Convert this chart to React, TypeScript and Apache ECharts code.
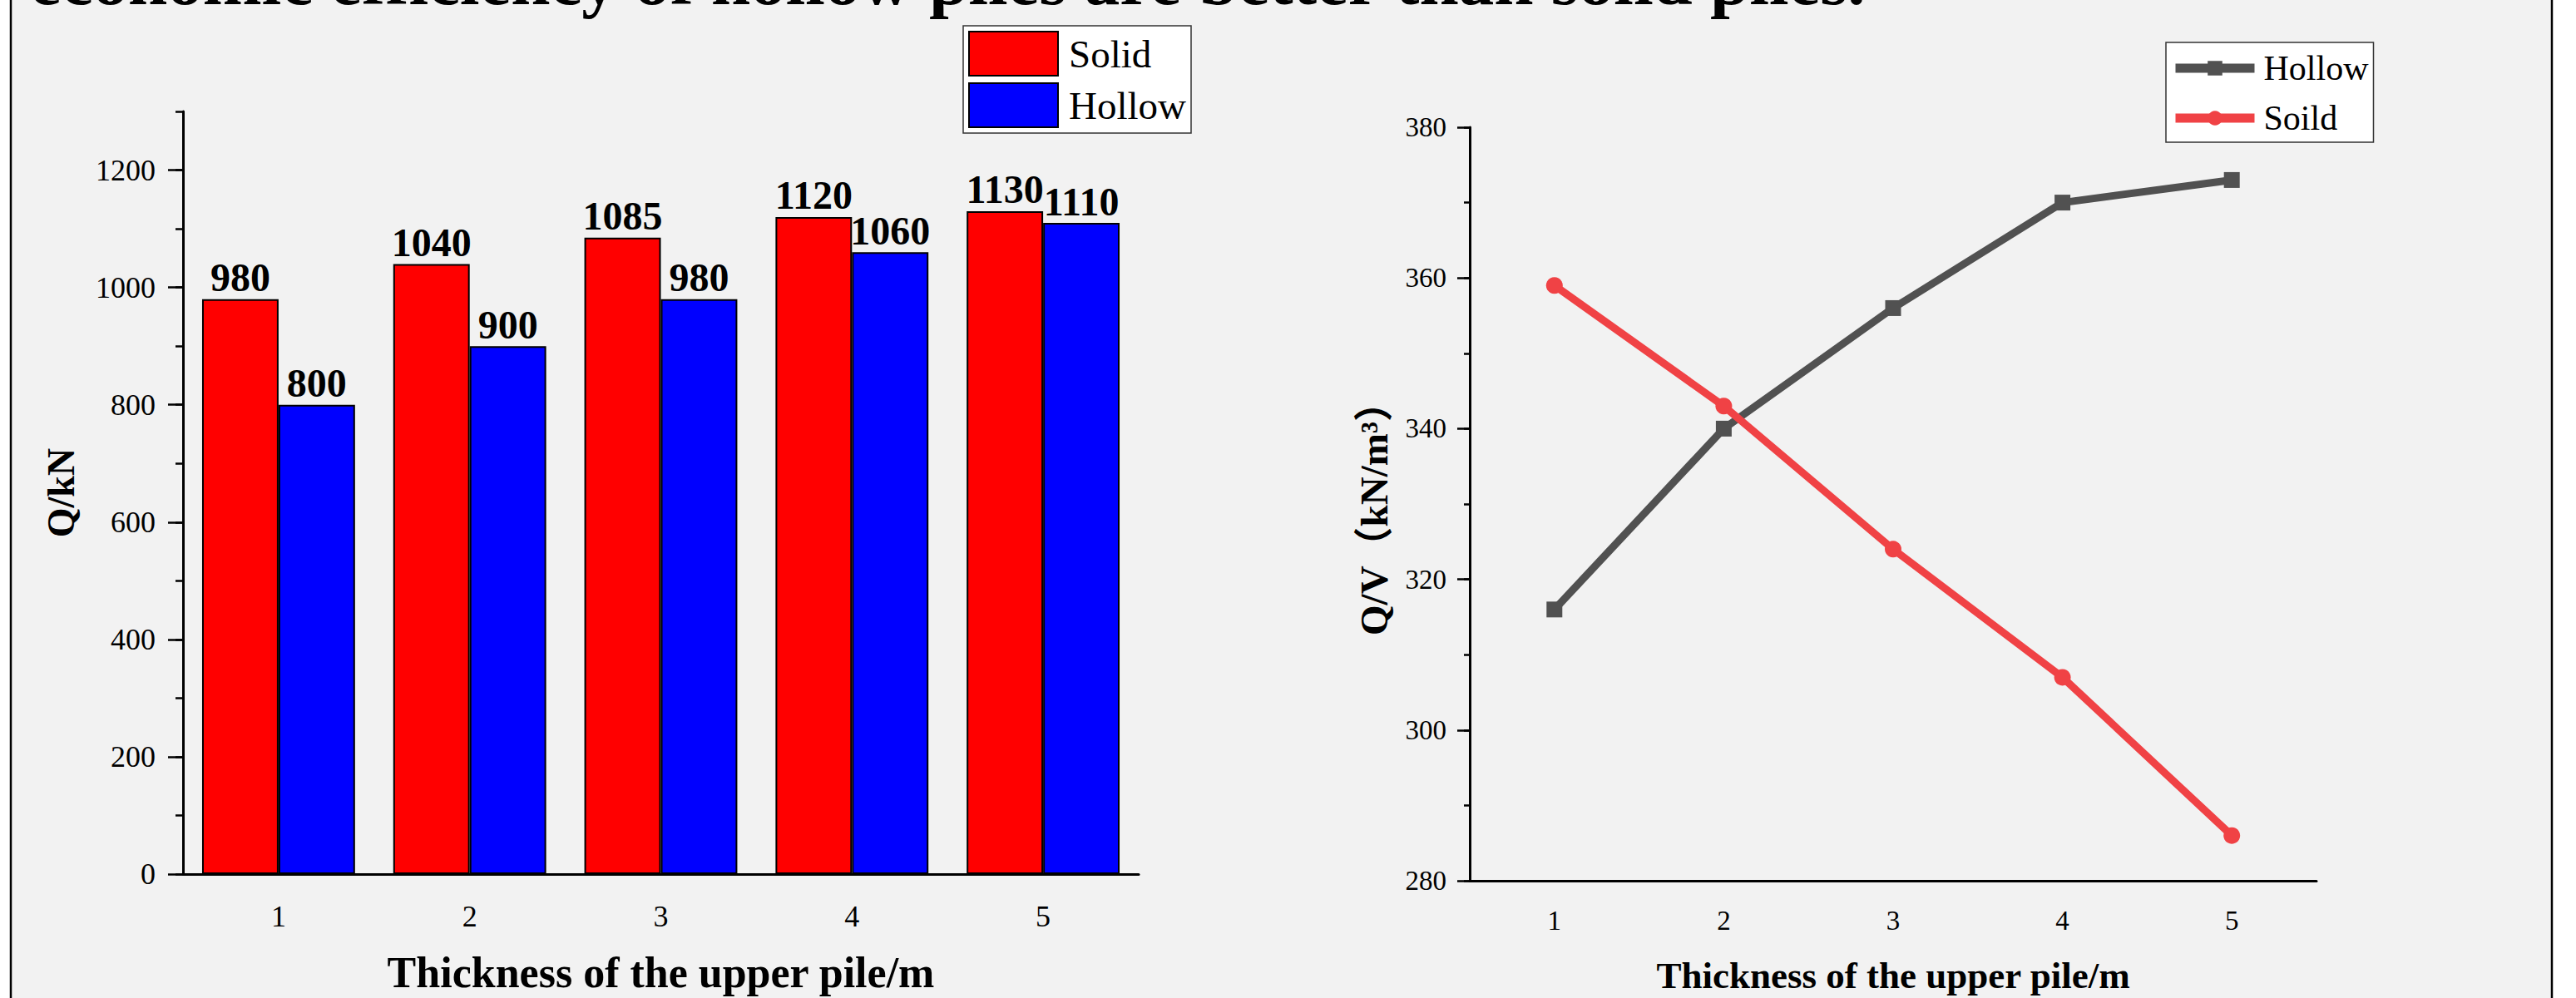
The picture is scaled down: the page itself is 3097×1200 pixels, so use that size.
import { useEffect, useRef } from 'react';
import * as echarts from 'echarts';

const categories = ['1', '2', '3', '4', '5'];
const solidCapacity = [980, 1040, 1085, 1120, 1130];
const hollowCapacity = [800, 900, 980, 1060, 1110];
const hollowRatio = [316, 340, 356, 370, 373];
const solidRatio = [359, 343, 324, 307, 286];
const leftYTicks = [0, 200, 400, 600, 800, 1000, 1200];
const rightYTicks = [280, 300, 320, 340, 360, 380];
const titleText = 'economic efficiency of hollow piles are better than solid piles.';
const xName = 'Thickness of the upper pile/m';
const leftYName = 'Q/kN';
const rightYName = 'Q/V（kN/m³）';

const SERIF = '"Liberation Serif", "Times New Roman", serif';
const SERIF_CJK = '"Liberation Serif", "Noto Sans CJK SC", serif';

export default function App() {
  const ref = useRef<HTMLDivElement>(null);
  useEffect(() => {
    if (!ref.current) return;
    const chart = echarts.init(ref.current, null, { renderer: 'svg' });
    const tickStyle = { color: '#000', width: 2.5 };
    const axisLineStyle = { color: '#000', width: 3 };
    const plain = (v: number) => String(v);
    const option: any = {
      animation: false,
      backgroundColor: '#ffffff',
      graphic: [
        {
          type: 'rect',
          z: -10,
          silent: true,
          shape: { x: 13, y: -10, width: 3055, height: 1230 },
          style: { fill: '#f2f2f2', stroke: '#000', lineWidth: 2.5 },
        },
        {
          type: 'text',
          z: 10,
          x: 36,
          y: -24,
          style: {
            text: titleText,
            fontSize: 85,
            fontWeight: 'bold',
            fontFamily: SERIF,
            fill: '#000',
            verticalAlign: 'middle',
            align: 'left',
          },
        },
      ],
      grid: [
        { left: 220, top: 134, width: 1149, height: 924.5 },
        { left: 1767, top: 153, width: 1018, height: 909 },
      ],
      legend: [
        {
          data: ['Solid', 'Hollow'],
          orient: 'vertical',
          left: 1158,
          top: 31,
          itemWidth: 107,
          itemHeight: 53,
          itemGap: 7,
          padding: [6, 6, 6, 6],
          backgroundColor: '#ffffff',
          borderColor: '#333',
          borderWidth: 1.5,
          borderRadius: 0,
          icon: 'rect',
          textStyle: { fontSize: 47, fontFamily: SERIF, color: '#000', padding: [0, 0, 0, 8] },
        },
        {
          data: ['HollowQV', 'SoildQV'],
          formatter: (name: string) => name.replace('QV', ''),
          orient: 'vertical',
          left: 2604,
          top: 51,
          itemWidth: 95,
          itemHeight: 22,
          itemGap: 18,
          padding: [10, 6, 8, 6],
          backgroundColor: '#ffffff',
          borderColor: '#333',
          borderWidth: 1.5,
          borderRadius: 0,
          lineStyle: { width: 11 },
          textStyle: { fontSize: 42, fontFamily: SERIF, color: '#000', padding: [0, 0, 0, 6] },
        },
      ],
      xAxis: [
        {
          gridIndex: 0,
          type: 'category',
          data: categories,
          position: 'bottom',
          boundaryGap: true,
          axisLine: { onZero: false, lineStyle: axisLineStyle },
          axisTick: { length: 9, lineStyle: tickStyle },
          axisLabel: { show: false },
          splitLine: { show: false },
        },
        {
          gridIndex: 0,
          type: 'category',
          data: categories,
          position: 'bottom',
          boundaryGap: true,
          axisLine: { show: false, onZero: false },
          axisTick: { alignWithLabel: true, length: 18, lineStyle: tickStyle },
          axisLabel: { fontSize: 36, fontFamily: SERIF, color: '#000', margin: 33 },
          splitLine: { show: false },
          name: xName,
          nameLocation: 'middle',
          nameGap: 92,
          nameTextStyle: { fontSize: 52, fontWeight: 'bold', fontFamily: SERIF, color: '#000' },
        },
        {
          gridIndex: 1,
          type: 'category',
          data: categories,
          position: 'bottom',
          boundaryGap: true,
          axisLine: { onZero: false, lineStyle: axisLineStyle },
          axisTick: { length: 10, lineStyle: tickStyle },
          axisLabel: { show: false },
          splitLine: { show: false },
        },
        {
          gridIndex: 1,
          type: 'category',
          data: categories,
          position: 'bottom',
          boundaryGap: true,
          axisLine: { show: false, onZero: false },
          axisTick: { alignWithLabel: true, length: 18, lineStyle: tickStyle },
          axisLabel: { fontSize: 33, fontFamily: SERIF, color: '#000', margin: 31 },
          splitLine: { show: false },
          name: xName,
          nameLocation: 'middle',
          nameGap: 91,
          nameTextStyle: { fontSize: 45, fontWeight: 'bold', fontFamily: SERIF, color: '#000' },
        },
      ],
      yAxis: [
        {
          gridIndex: 0,
          type: 'value',
          position: 'left',
          min: 0,
          max: 1300,
          interval: 100,
          axisLine: { show: true, lineStyle: axisLineStyle },
          axisTick: { show: true, length: 9, lineStyle: tickStyle },
          axisLabel: { show: false },
          splitLine: { show: false },
        },
        {
          gridIndex: 0,
          type: 'value',
          position: 'left',
          min: 0,
          max: 1300,
          interval: 100,
          axisLine: { show: false },
          axisTick: { show: true, length: 18, lineStyle: tickStyle, customValues: leftYTicks },
          axisLabel: { customValues: leftYTicks, formatter: plain, fontSize: 36, fontFamily: SERIF, color: '#000', margin: 33 },
          splitLine: { show: false },
          name: leftYName,
          nameLocation: 'middle',
          nameRotate: 90,
          nameGap: 124,
          nameTextStyle: { fontSize: 46, fontWeight: 'bold', fontFamily: SERIF, color: '#000' },
        },
        {
          gridIndex: 1,
          type: 'value',
          position: 'left',
          min: 280,
          max: 380,
          interval: 10,
          axisLine: { show: true, lineStyle: axisLineStyle },
          axisTick: { show: true, length: 7, lineStyle: tickStyle },
          axisLabel: { show: false },
          splitLine: { show: false },
        },
        {
          gridIndex: 1,
          type: 'value',
          position: 'left',
          min: 280,
          max: 380,
          interval: 10,
          axisLine: { show: false },
          axisTick: { show: true, length: 15, lineStyle: tickStyle, customValues: rightYTicks },
          axisLabel: { customValues: rightYTicks, formatter: plain, fontSize: 33, fontFamily: SERIF, color: '#000', margin: 28 },
          splitLine: { show: false },
          name: rightYName,
          nameLocation: 'middle',
          nameRotate: 90,
          nameGap: 92,
          nameTextStyle: { fontSize: 47, fontWeight: 'bold', fontFamily: SERIF_CJK, color: '#000', padding: [0, 12, 0, 0] },
        },
      ],
      series: [
        {
          name: 'Solid',
          type: 'bar',
          xAxisIndex: 0,
          yAxisIndex: 0,
          data: solidCapacity,
          barGap: '0%',
          barCategoryGap: '20%',
          itemStyle: { color: '#ff0000', borderColor: '#000', borderWidth: 2 },
          label: { show: true, position: 'top', distance: 2, fontSize: 48, fontWeight: 'bold', fontFamily: SERIF, color: '#000' },
        },
        {
          name: 'Hollow',
          type: 'bar',
          xAxisIndex: 0,
          yAxisIndex: 0,
          data: hollowCapacity,
          barGap: '0%',
          barCategoryGap: '20%',
          itemStyle: { color: '#0000ff', borderColor: '#000', borderWidth: 2 },
          label: { show: true, position: 'top', distance: 2, fontSize: 48, fontWeight: 'bold', fontFamily: SERIF, color: '#000' },
        },
        {
          name: 'HollowQV',
          type: 'line',
          xAxisIndex: 2,
          yAxisIndex: 2,
          data: hollowRatio,
          symbol: 'rect',
          symbolSize: 19,
          lineStyle: { color: '#515151', width: 9 },
          itemStyle: { color: '#515151' },
          z: 3,
        },
        {
          name: 'SoildQV',
          type: 'line',
          xAxisIndex: 2,
          yAxisIndex: 2,
          data: solidRatio,
          symbol: 'circle',
          symbolSize: 20,
          lineStyle: { color: '#f04245', width: 9 },
          itemStyle: { color: '#f04245' },
          z: 4,
        },
      ],
    };
    chart.setOption(option);
    return () => chart.dispose();
  }, []);
  return (
    <div
      ref={ref}
      style={{ position: 'absolute', left: 0, top: 0, width: 3097, height: 1200 }}
    />
  );
}
